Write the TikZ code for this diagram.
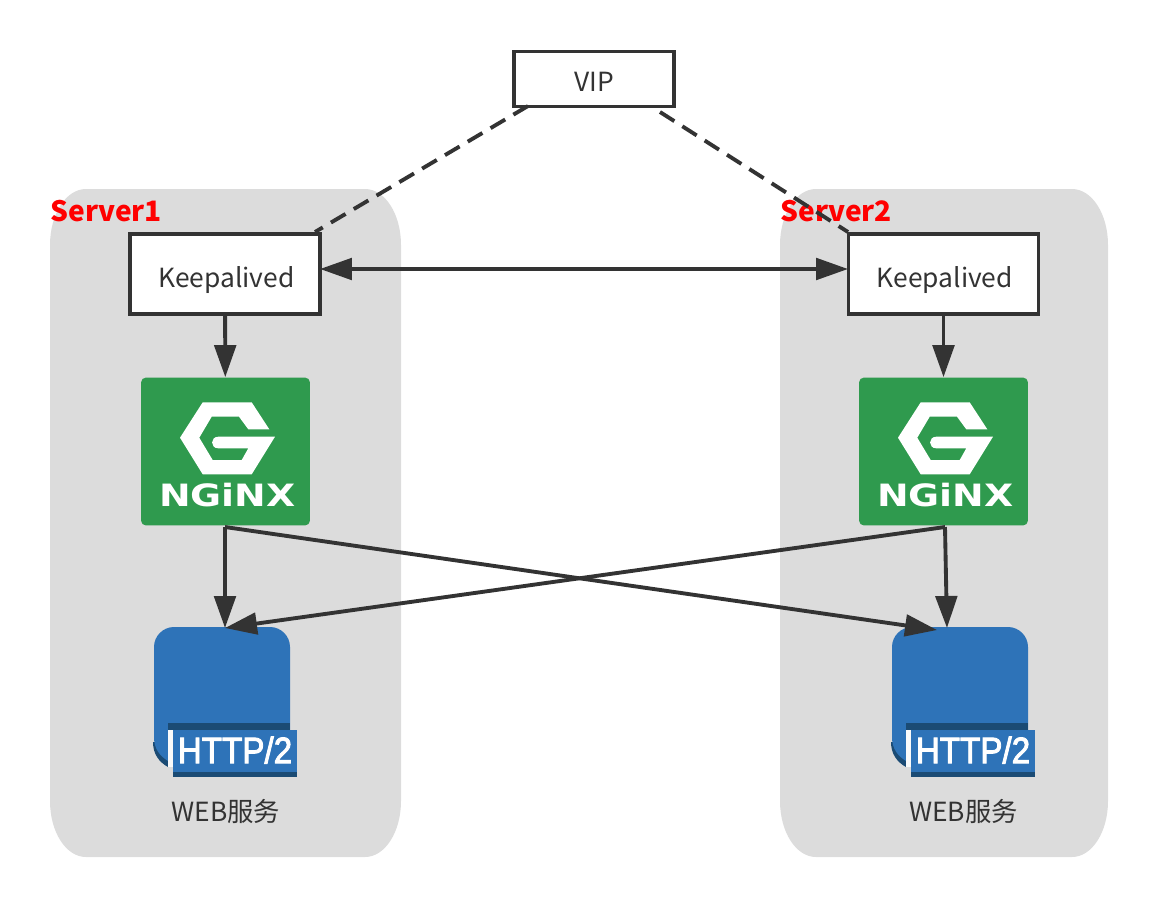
\documentclass[tikz,border=0pt]{standalone}
\usepackage{fontspec}
\setmainfont{Noto Sans CJK SC}
\newfontfamily\logofont{DejaVu Sans}
\newfontfamily\badgefont[FakeBold=2.5]{Liberation Sans}
\usetikzlibrary{arrows.meta}
\definecolor{panelgray}{HTML}{DCDCDC}
\definecolor{inkgray}{HTML}{333333}
\definecolor{ngxgreen}{HTML}{2F9A4E}
\definecolor{webblue}{HTML}{2E73B8}
\definecolor{webdark}{HTML}{1B4B74}
\tikzset{
    stepbox/.style={draw=inkgray, line width=2.2pt, fill=white, text=inkgray, inner sep=0pt, text depth=0pt, font=\fontsize{15}{17}\selectfont}, % 白色方框
    srvlabel/.style={anchor=west, inner sep=0pt, text=red, font=\fontsize{16}{18}\selectfont\bfseries},
    weblabel/.style={inner sep=0pt, text=inkgray, font=\fontsize{15}{17}\selectfont},
    ngxbox/.style={fill=ngxgreen, rounded corners=0.1cm, minimum width=3.38cm, minimum height=2.96cm, inner sep=0pt},
    webbox/.style={minimum width=2.88cm, minimum height=2.98cm, inner sep=0pt},
    link/.style={draw=inkgray, line width=2.2pt},
    dashlink/.style={link, dash pattern=on 0.34cm off 0.19cm},
    flow/.style={link, -{Triangle[length=0.64cm, width=0.43cm]}},
    both/.style={link, {Triangle[length=0.64cm, width=0.43cm]}-{Triangle[length=0.64cm, width=0.43cm]}},
    ngxlogo/.pic={
        \fill[white] (-45.5,-13.8) -- (-22.8,-49.2) -- (26.2,-49.2) -- (43.8,-22.2) -- (22.8,-22.2) -- (13.5,-34.8) -- (-13.8,-34.8) -- (-26.2,-13.8) -- (-12.8,8.5) -- (16.2,8.5) -- (22.8,-3.2) -- (-7.2,-3.2) .. controls (-15.5,-3.2) and (-15.5,-14.8) .. (-7.2,-14.8) -- (49.5,-14.8) -- (26.2,22.8) -- (-22.8,22.8) -- cycle;
        \node[inner sep=0pt, text=white, font=\logofont\bfseries\fontsize{17.5}{19}\selectfont] (-name) at (2,44) {\scalebox{1.23}[1]{NGiNX}};
    },
    webicon/.pic={
        \fill[webdark] (-73,40) .. controls (-73,52) and (-67,60) .. (-58,65) -- (-58,40) -- cycle;
        \fill[webblue] (-72,-55) .. controls (-72,-66) and (-63,-75) .. (-52,-75) -- (44,-75) .. controls (55,-75) and (64,-66) .. (64,-55) -- (64,28) -- (-58,28) -- (-58,59) .. controls (-66,54) and (-72,47) .. (-72,35) -- cycle;
        \fill[webdark] (-58,21) rectangle (64,28);
        \fill[white!85!panelgray] (-58,28) rectangle (-53,65);
        \fill[webblue] (-53,28) rectangle (71,70);
        \fill[webdark] (-53,70) rectangle (71,75);
        \node[inner sep=0pt, text=white, font=\badgefont\fontsize{21}{23}\selectfont] (-name) at (9,48) {\scalebox{0.9}[1]{HTTP/2}};
    }
}

\begin{document}
\begin{tikzpicture}[x=0.02cm, y=-0.02cm]
    \useasboundingbox (0,0) rectangle (1157,907);

    % 两台服务器的底板
    \foreach \xa/\xb in {50/401, 780/1108} {
        \fill[panelgray] (\xa+36,189) -- (\xb-36,189) .. controls (\xb-16,189) and (\xb,214) .. (\xb,245) -- (\xb,801) .. controls (\xb,832) and (\xb-16,857) .. (\xb-36,857) -- (\xa+36,857) .. controls (\xa+16,857) and (\xa,832) .. (\xa,801) -- (\xa,245) .. controls (\xa,214) and (\xa+16,189) .. (\xa+36,189) -- cycle;
    }
    \node[srvlabel] (srvname1) at (50,211) {Server1};
    \node[srvlabel] (srvname2) at (780,211) {Server2};

    \node[stepbox, text height=0.48cm, minimum width=3.2cm, minimum height=1.1cm] (vip) at (594,79) {VIP};

    \foreach \i/\xk/\xn/\xw/\xt in {1/225/225.5/226/226, 2/943.5/943.5/964/963.5} {
        \node[stepbox, text height=0.52cm, minimum width=3.8cm, minimum height=1.6cm] (kpa\i) at (\xk,274) {\hspace{1.5pt}Keepalived};
        \node[ngxbox] (nginx\i) at (\xn,451.5) {};
        \pic (ngx\i) at (nginx\i) {ngxlogo};
        \node[webbox] (web\i) at (\xw,702) {};
        \pic (http\i) at (web\i) {webicon};
        \node[weblabel] (webname\i) at (\xt,811) {WEB服务};
    }

    % 连线的端点
    \coordinate (vipl) at (528,106);
    \coordinate (vipr) at (660,112);
    \coordinate (kpal) at (315,232);
    \coordinate (kpar) at (848,232);
    \coordinate (kpa1e) at (320,269);
    \coordinate (kpa2w) at (848,269);
    \coordinate (nginx1s) at (225,527);
    \coordinate (nginx2s) at (945,527);
    \coordinate (web1t) at (225,628);
    \coordinate (web2t) at (947,628);
    \coordinate (web2l) at (937,630);

    \draw[dashlink] (vipl) -- (kpal);
    \draw[dashlink] (vipr) -- (kpar);
    \draw[both] (kpa1e) -- (kpa2w);
    \draw[flow] (kpa1) -- (nginx1);
    \draw[flow] (kpa2) -- (nginx2);
    \draw[flow] (nginx1s) -- (web1t);
    \draw[flow] (nginx2s) -- (web2t);
    \draw[flow] (nginx1s) -- (web2l);
    \draw[flow] (nginx2s) -- (web1t);
\end{tikzpicture}
\end{document}
